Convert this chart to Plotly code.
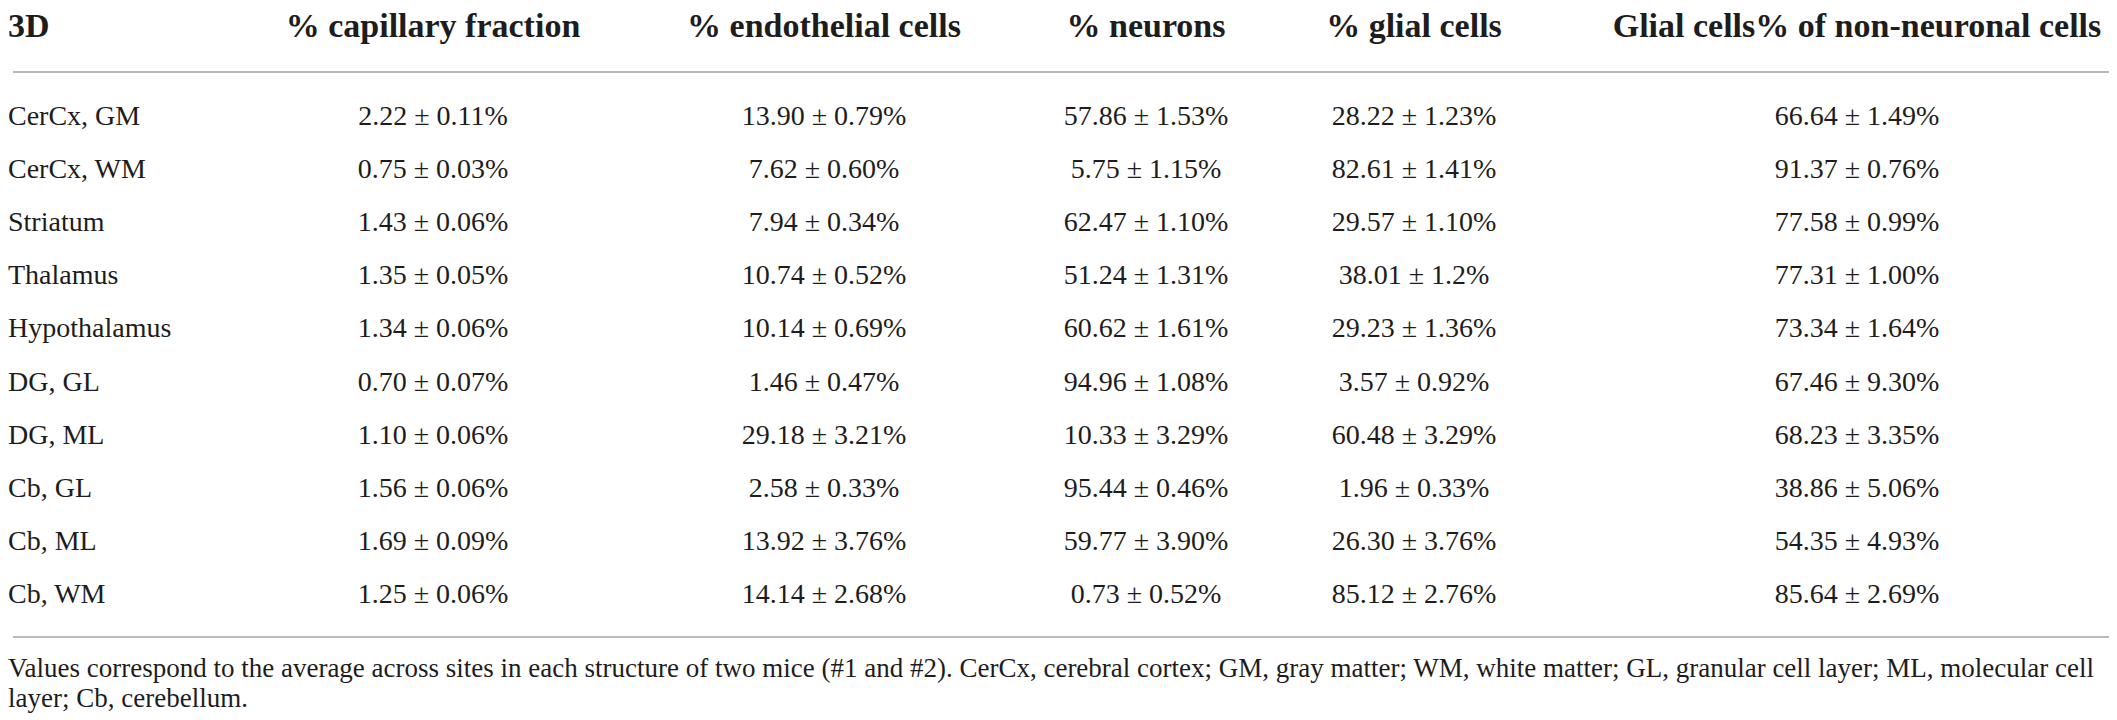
import plotly.graph_objects as go

# table content
regions = ["CerCx, GM", "CerCx, WM", "Striatum", "Thalamus", "Hypothalamus",
           "DG, GL", "DG, ML", "Cb, GL", "Cb, ML", "Cb, WM"]
headers = ["3D", "% capillary fraction", "% endothelial cells", "% neurons",
           "% glial cells", "Glial cells% of non-neuronal cells"]

capillary = ["2.22 ± 0.11%", "0.75 ± 0.03%", "1.43 ± 0.06%", "1.35 ± 0.05%", "1.34 ± 0.06%",
             "0.70 ± 0.07%", "1.10 ± 0.06%", "1.56 ± 0.06%", "1.69 ± 0.09%", "1.25 ± 0.06%"]
endothelial = ["13.90 ± 0.79%", "7.62 ± 0.60%", "7.94 ± 0.34%", "10.74 ± 0.52%", "10.14 ± 0.69%",
               "1.46 ± 0.47%", "29.18 ± 3.21%", "2.58 ± 0.33%", "13.92 ± 3.76%", "14.14 ± 2.68%"]
neurons = ["57.86 ± 1.53%", "5.75 ± 1.15%", "62.47 ± 1.10%", "51.24 ± 1.31%", "60.62 ± 1.61%",
           "94.96 ± 1.08%", "10.33 ± 3.29%", "95.44 ± 0.46%", "59.77 ± 3.90%", "0.73 ± 0.52%"]
glial = ["28.22 ± 1.23%", "82.61 ± 1.41%", "29.57 ± 1.10%", "38.01 ± 1.2%", "29.23 ± 1.36%",
         "3.57 ± 0.92%", "60.48 ± 3.29%", "1.96 ± 0.33%", "26.30 ± 3.76%", "85.12 ± 2.76%"]
glial_nonneuronal = ["66.64 ± 1.49%", "91.37 ± 0.76%", "77.58 ± 0.99%", "77.31 ± 1.00%", "73.34 ± 1.64%",
                     "67.46 ± 9.30%", "68.23 ± 3.35%", "38.86 ± 5.06%", "54.35 ± 4.93%", "85.64 ± 2.69%"]

footnote = [
    "Values correspond to the average across sites in each structure of two mice (#1 and #2). "
    "CerCx, cerebral cortex; GM, gray matter; WM, white matter; GL, granular cell layer; ML, molecular cell",
    "layer; Cb, cerebellum.",
]

W, H = 2117, 720
FONT = "Liberation Serif"
INK = "#1e1c1d"
RULE = "#a3a3a3"

col_x = [0, 425, 816, 1138, 1406, 1849]
row_y = [110 + 53.1 * i for i in range(len(regions))]
header_y = 20

columns = [regions, capillary, endothelial, neurons, glial, glial_nonneuronal]

fig = go.Figure()

# header row
for j, h in enumerate(headers):
    fig.add_trace(go.Scatter(
        x=[col_x[j]], y=[header_y], mode="text",
        text=["<b>" + h + "</b>"],
        textposition="middle right" if j == 0 else "middle center",
        textfont=dict(family=FONT, size=34, color=INK),
        hoverinfo="skip", showlegend=False, cliponaxis=False))

# body rows
for j, col in enumerate(columns):
    fig.add_trace(go.Scatter(
        x=[col_x[j]] * len(col), y=row_y, mode="text", text=col,
        textposition="middle right" if j == 0 else "middle center",
        textfont=dict(family=FONT, size=28, color=INK),
        hoverinfo="skip", showlegend=False))

# footnote
fig.add_trace(go.Scatter(
    x=[0, 0], y=[662, 692], mode="text", text=footnote,
    textposition="middle right",
    textfont=dict(family=FONT, size=27, color=INK),
    hoverinfo="skip", showlegend=False))

# rules under header and after last row
for yy in [64, 629]:
    fig.add_shape(type="line", x0=5, x1=2112, y0=yy, y1=yy,
                  xref="x", yref="y", line=dict(color=RULE, width=1.5))

fig.update_xaxes(range=[0, W], visible=False, fixedrange=True)
fig.update_yaxes(range=[H, 0], visible=False, fixedrange=True)
fig.update_layout(width=W, height=H, margin=dict(l=0, r=0, t=0, b=0),
                  plot_bgcolor="white", paper_bgcolor="white")

fig.write_html("out.html")
